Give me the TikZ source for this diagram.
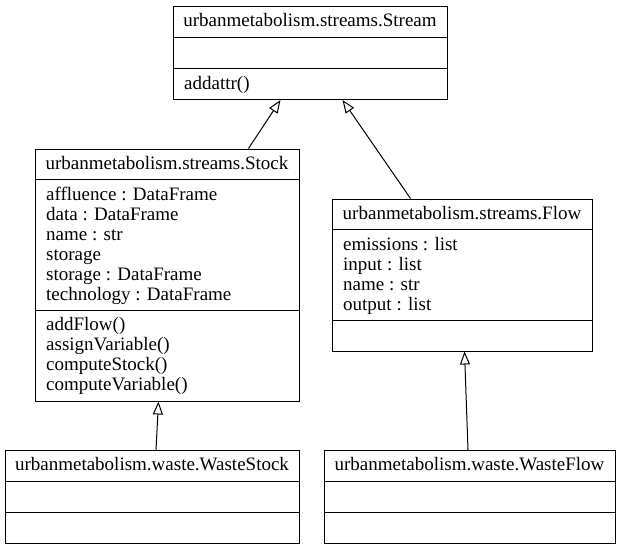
\documentclass[tikz,border=0pt]{standalone}
\usepackage{fontspec}
\setmainfont{Liberation Serif}
\usetikzlibrary{arrows.meta}

\tikzset{
  classbox/.style={draw, line width=1pt, anchor=north west, inner sep=0pt},
  title/.style={anchor=base, inner sep=0pt},
  member/.style={anchor=base west, inner sep=0pt},
  inherit/.style={line width=1pt, -{Triangle[open, length=13pt, width=10pt]}}
}

\begin{document}
\begin{tikzpicture}[x=1pt,y=-1pt,font=\fontsize{19}{20}\selectfont]
\useasboundingbox (0,0) rectangle (621,549);

% Stream
\node[classbox, minimum width=274pt, minimum height=93.5pt] (stream) at (173,5.5) {};
\draw[line width=1pt] (173,37.5) -- (447,37.5) (173,68.5) -- (447,68.5);
\node[title] (stream-t) at (310,26) {urbanmetabolism.streams.Stream};
\node[member] (stream-m1) at (184,89) {addattr()};

% Stock
\node[classbox, minimum width=264pt, minimum height=252pt] (stock) at (35,148.5) {};
\draw[line width=1pt] (35,179) -- (299,179) (35,310) -- (299,310);
\node[title] (stock-t) at (167,169.5) {urbanmetabolism.streams.Stock};
\foreach \t [count=\i] in {affluence : DataFrame, data : DataFrame, name : str,
  storage, storage : DataFrame, technology : DataFrame}
  \node[member] (stock-a\i) at (46,180+20*\i) {\t};
\foreach \t [count=\i] in {addFlow(), assignVariable(), computeStock(), computeVariable()}
  \node[member] (stock-m\i) at (46,310+20*\i) {\t};

% Flow
\node[classbox, minimum width=260pt, minimum height=152pt] (flow) at (332,198.5) {};
\draw[line width=1pt] (332,229.5) -- (592,229.5) (332,320) -- (592,320);
\node[title] (flow-t) at (462,219.5) {urbanmetabolism.streams.Flow};
\foreach \t [count=\i] in {emissions : list, input : list, name : str, output : list}
  \node[member] (flow-a\i) at (343,230.5+20*\i) {\t};

% WasteStock
\node[classbox, minimum width=294pt, minimum height=92.5pt] (wastestock) at (5,450) {};
\draw[line width=1pt] (5,481) -- (299,481) (5,512) -- (299,512);
\node[title] (wastestock-t) at (152,470.5) {urbanmetabolism.waste.WasteStock};

% WasteFlow
\node[classbox, minimum width=291pt, minimum height=93pt] (wasteflow) at (324,450) {};
\draw[line width=1pt] (324,481) -- (615,481) (324,512) -- (615,512);
\node[title] (wasteflow-t) at (469.5,470.5) {urbanmetabolism.waste.WasteFlow};

% inheritance
\draw[inherit] ([xshift=81pt]stock.north) -- ([xshift=-30pt]stream.south);
\draw[inherit] ([xshift=-52pt]flow.north) -- ([xshift=32pt]stream.south);
\draw[inherit] ([xshift=3.5pt]wastestock.north) -- ([xshift=-9pt]stock.south);
\draw[inherit] ([xshift=-2pt]wasteflow.north) -- ([xshift=2pt]flow.south);

\end{tikzpicture}
\end{document}
